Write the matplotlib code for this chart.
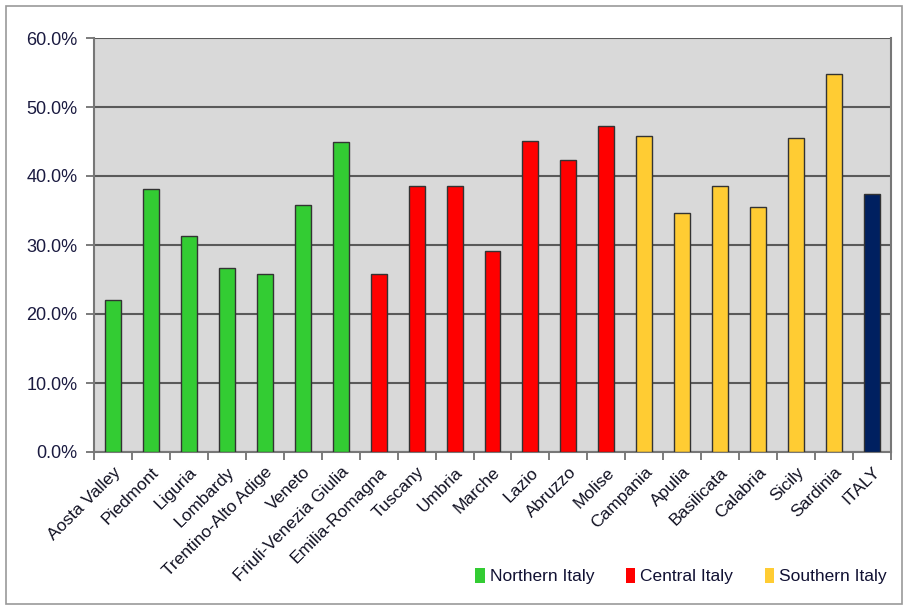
import numpy as np
import matplotlib.pyplot as plt
from matplotlib.patches import Patch, Rectangle

plt.rcParams['font.family'] = ['Liberation Sans', 'DejaVu Sans']

regions = ["Aosta Valley", "Piedmont", "Liguria", "Lombardy", "Trentino-Alto Adige",
           "Veneto", "Friuli-Venezia Giulia", "Emilia-Romagna", "Tuscany", "Umbria",
           "Marche", "Lazio", "Abruzzo", "Molise", "Campania", "Apulia", "Basilicata",
           "Calabria", "Sicily", "Sardinia", "ITALY"]
values = [22.1, 38.1, 31.3, 26.7, 25.8, 35.8, 44.9, 25.8, 38.6, 38.6, 29.1,
          45.1, 42.3, 47.2, 45.8, 34.6, 38.6, 35.5, 45.5, 54.8, 37.4]
area = ["N"] * 7 + ["C"] * 7 + ["S"] * 6 + ["IT"]

colors = {"N": "#33cc33", "C": "#ff0000", "S": "#ffcc33", "IT": "#002060"}
legend_names = {"N": "Northern Italy", "C": "Central Italy", "S": "Southern Italy"}

fig = plt.figure(figsize=(9.06, 6.08), dpi=100)
ax = fig.add_axes([94 / 906, 1 - 452 / 608, 797 / 906, 414 / 608])

# outer frame around the whole chart
fig.patches.append(Rectangle((6 / 906, 4 / 608), 896 / 906, 598 / 608, transform=fig.transFigure,
                             fill=False, edgecolor="#999999", linewidth=1.2))

x = np.arange(len(regions))
ax.bar(x, values, width=0.42, color=[colors[a] for a in area],
       edgecolor="#333333", linewidth=1.0, zorder=3)

ax.set_facecolor("#d9d9d9")
ax.set_xlim(-0.5, len(regions) - 0.5)
ax.set_ylim(0, 60)
ax.set_yticks(np.arange(0, 61, 10))
ax.set_yticklabels(["%.1f%%" % v for v in np.arange(0, 61, 10)], fontsize=13, color="#1a1a40")
ax.yaxis.grid(True, color="#5a5a5a", linewidth=1.5, zorder=1)

# ticks between categories, labels at the centres
ax.set_xticks(np.arange(-0.5, len(regions), 1))
ax.set_xticklabels([])
ax.set_xticks(x, minor=True)
ax.set_xticklabels(regions, minor=True, rotation=45, ha="right", rotation_mode="anchor",
                   fontsize=12.5, color="#111122")
ax.tick_params(axis="x", which="minor", length=0, pad=9)
ax.tick_params(axis="x", which="major", length=6, width=1.2, color="#666666")
ax.tick_params(axis="y", length=6, width=1.2, color="#666666", pad=6)

for side in ["left", "bottom", "right"]:
    ax.spines[side].set_color("#777777")
    ax.spines[side].set_linewidth(1.5)
ax.spines["top"].set_visible(False)

handles = [Patch(facecolor=colors[k], edgecolor="none", label=legend_names[k]) for k in ["N", "C", "S"]]
fig.legend(handles=handles, loc="center", bbox_to_anchor=(681 / 906, 1 - 576 / 608), ncol=3,
           frameon=False, fontsize=12.5, handlelength=0.55, handleheight=1.0, handletextpad=0.3,
           columnspacing=1.8, labelcolor="#111133", borderpad=0, borderaxespad=0)

fig.savefig("out.png", dpi=100)
